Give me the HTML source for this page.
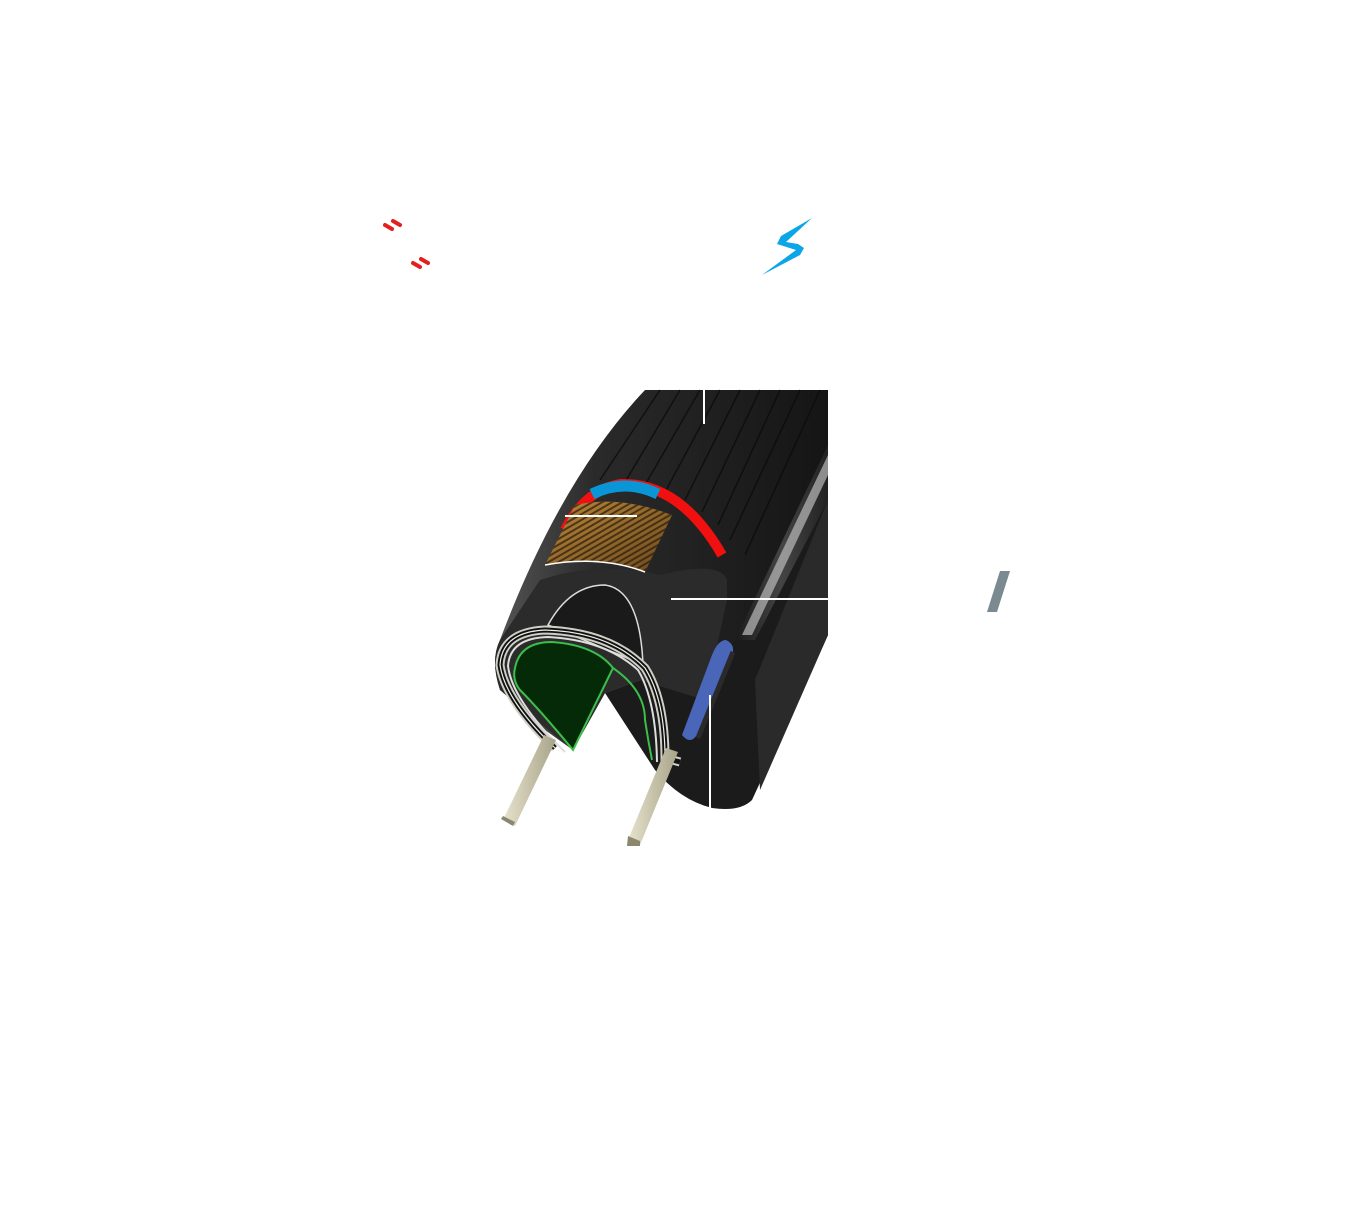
<!DOCTYPE html>
<html><head><meta charset="utf-8"><style>
html,body{margin:0;padding:0;background:#fff;}
svg{display:block;}
</style></head><body>
<svg width="1356" height="1228" viewBox="0 0 1356 1228" xmlns="http://www.w3.org/2000/svg">
<defs>
<linearGradient id="body" x1="0" y1="0" x2="1" y2="0">
<stop offset="0" stop-color="#555"/><stop offset="0.3" stop-color="#2a2a2a"/><stop offset="1" stop-color="#151515"/>
</linearGradient>
<linearGradient id="side" x1="0" y1="0" x2="1" y2="0">
<stop offset="0" stop-color="#1a1a1a"/><stop offset="0.5" stop-color="#444"/><stop offset="1" stop-color="#222"/>
</linearGradient>
<linearGradient id="orange" x1="0" y1="0" x2="1" y2="1">
<stop offset="0" stop-color="#b8863a"/><stop offset="1" stop-color="#6b4a1e"/>
</linearGradient>
<pattern id="stripes" width="5" height="5" patternUnits="userSpaceOnUse" patternTransform="rotate(-30)">
<rect width="5" height="2" fill="#2a1a08"/>
</pattern>
<linearGradient id="bead" x1="0" y1="0" x2="1" y2="0">
<stop offset="0" stop-color="#e6e2cc"/><stop offset="1" stop-color="#a8a48a"/>
</linearGradient>
</defs>

<g stroke="#e3201b" stroke-width="4" stroke-linecap="round">
<line x1="385" y1="225" x2="392" y2="229"/><line x1="393" y1="221" x2="400" y2="225"/>
<line x1="413" y1="263" x2="420" y2="267"/><line x1="421" y1="259" x2="428" y2="263"/>
</g>
<polygon points="812,218 781,236 777,244 796,250 762,275 800,255 804,248 798,244 786,242" fill="#0aa6e8"/>
<polygon points="1000,571 1010,571 997,612 987,612" fill="#7a8a90"/>

<path d="M828,390 L828,635 L752,800 Q740,812 712,808 Q680,800 655,770 L605,693 L640,680 L700,600 L760,480 Z" fill="#1b1b1b"/>
<path d="M828,445 L828,500 L755,640 L735,640 Z" fill="url(#side)"/>
<path d="M828,455 L828,475 L752,635 L742,635 Z" fill="#bbb" opacity="0.7"/>
<path d="M828,500 L828,635 L760,790 L755,680 Z" fill="#2a2a2a"/>

<path d="M645,390 L828,390 L828,445 L735,640 L705,700 L640,680 L605,693 L573,750 L545,730 L500,690 Q490,660 500,640 Q560,480 645,390 Z" fill="url(#body)"/>
<g stroke="#0c0c0c" stroke-width="1.5" opacity="0.8">
<line x1="660" y1="390" x2="600" y2="480"/><line x1="680" y1="390" x2="625" y2="482"/>
<line x1="700" y1="390" x2="645" y2="485"/><line x1="720" y1="390" x2="665" y2="492"/>
<line x1="740" y1="390" x2="685" y2="500"/><line x1="760" y1="390" x2="702" y2="512"/>
<line x1="780" y1="390" x2="718" y2="525"/><line x1="800" y1="390" x2="730" y2="540"/>
<line x1="820" y1="390" x2="745" y2="555"/>
</g>
<path d="M540,580 Q600,560 660,575 Q720,560 727,580 L727,600 L705,700 L640,680 L605,693 L573,750 L500,690 Q490,660 500,640 Z" fill="#2b2b2b"/>
<path d="M548,625 Q570,585 605,585 Q640,590 643,665 L620,655 Z" fill="#1a1a1a" stroke="#ddd" stroke-width="1.5"/>
<path d="M565,530 Q585,490 620,484 Q680,482 722,555" fill="none" stroke="#f01010" stroke-width="10"/>
<path d="M592,494 Q625,478 658,494" fill="none" stroke="#0a96d6" stroke-width="11"/>
<path d="M545,565 L575,505 Q620,495 672,515 L645,572 Q600,555 545,565 Z" fill="url(#orange)"/>
<path d="M545,565 L575,505 Q620,495 672,515 L645,572 Q600,555 545,565 Z" fill="url(#stripes)" opacity="0.7"/>
<path d="M545,565 Q600,555 645,572" fill="none" stroke="#fff" stroke-width="1.5"/>

<path d="M555,748 Q505,700 500,665 Q502,632 545,630 Q610,632 645,668 Q665,700 665,758 L680,762" fill="none" stroke="#cfcfc4" stroke-width="9"/>
<path d="M555,748 Q505,700 500,665 Q502,632 545,630 Q610,632 645,668 Q665,700 665,758 L680,762" fill="none" stroke="#111" stroke-width="5"/>
<path d="M555,748 Q505,700 500,665 Q502,632 545,630 Q610,632 645,668 Q665,700 665,758" fill="none" stroke="#eee" stroke-width="1.2"/>
<path d="M565,752 Q512,700 508,666 Q510,638 548,637 Q605,640 638,670 Q656,700 657,762" fill="none" stroke="#ddd" stroke-width="2"/>
<path d="M515,668 Q520,642 552,642 Q595,645 613,668 L573,750 Q540,710 520,690 Q512,680 515,668 Z" fill="#052a08" stroke="#3bbf4a" stroke-width="2"/>
<path d="M613,668 Q645,690 645,720 Q648,740 652,760" fill="none" stroke="#3bbf4a" stroke-width="2"/>

<path d="M726,640 Q736,645 732,655 L697,735 Q690,745 682,735 L712,655 Q718,640 726,640 Z" fill="#4a66b8"/>
<path d="M733,652 L698,738" stroke="#2a2a2a" stroke-width="5"/>

<polygon points="544,735 556,740 515,826 503,820" fill="url(#bead)"/>
<polygon points="666,748 678,752 640,845 628,840" fill="url(#bead)"/>
<polygon points="503,816 515,822 513,826 501,819" fill="#8c8870"/>
<polygon points="628,836 640,841 640,846 627,846" fill="#8c8870"/>

<g stroke="#fff" stroke-width="2">
<line x1="704" y1="390" x2="704" y2="424"/>
<line x1="565" y1="516" x2="637" y2="516"/>
<line x1="671" y1="599" x2="828" y2="599"/>
<line x1="710" y1="695" x2="710" y2="808"/>
</g>
</svg>
</body></html>
